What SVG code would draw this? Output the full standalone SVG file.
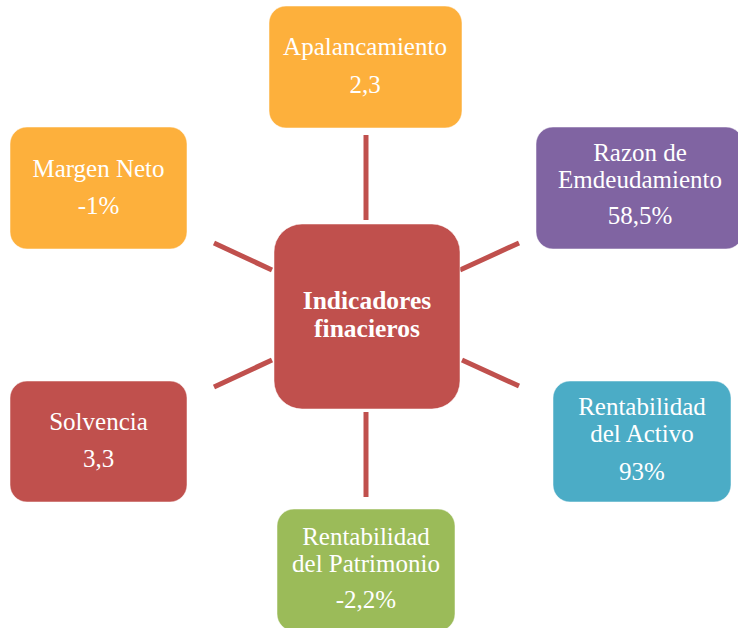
<svg xmlns="http://www.w3.org/2000/svg" width="738" height="628" viewBox="0 0 738 628">
<style>
.box{stroke:#ffffff;stroke-opacity:0.5;stroke-width:1}
.t{font-family:"Liberation Serif","Times New Roman",serif;font-size:25px;fill:#ffffff;text-anchor:middle}
.b{font-weight:bold;font-size:25.5px}
.c{stroke:#c0504d;stroke-width:5;fill:none}
</style>
<rect width="738" height="628" fill="#ffffff"/>
<g id="connectors">
<line class="c" x1="366" y1="135" x2="366" y2="220"/>
<line class="c" x1="366" y1="412" x2="366" y2="497"/>
<line class="c" x1="214" y1="243" x2="272" y2="270"/>
<line class="c" x1="214" y1="387" x2="272" y2="360"/>
<line class="c" x1="460" y1="270" x2="519" y2="243"/>
<line class="c" x1="462" y1="360" x2="519" y2="386"/>
</g>
<g id="center">
<rect class="box" x="274" y="224" width="186" height="185" rx="28" fill="#c0504d"/>
<text class="t b" x="367" y="309">Indicadores</text>
<text class="t b" x="367" y="337">finacieros</text>
</g>
<g id="apalancamiento">
<rect class="box" x="269" y="6" width="193" height="122" rx="17" fill="#fdb03c"/>
<text class="t" x="365" y="55">Apalancamiento</text>
<text class="t" x="365" y="93">2,3</text>
</g>
<g id="razon">
<rect class="box" x="536" y="127" width="207" height="122" rx="17" fill="#8064a2"/>
<text class="t" x="640" y="161">Razon de</text>
<text class="t" x="640" y="188">Emdeudamiento</text>
<text class="t" x="640" y="224">58,5%</text>
</g>
<g id="margen">
<rect class="box" x="10" y="127" width="177" height="122" rx="17" fill="#fdb03c"/>
<text class="t" x="98.5" y="177">Margen Neto</text>
<text class="t" x="98.5" y="214">-1%</text>
</g>
<g id="solvencia">
<rect class="box" x="10" y="381" width="177" height="121" rx="17" fill="#c0504d"/>
<text class="t" x="98.5" y="430">Solvencia</text>
<text class="t" x="98.5" y="467">3,3</text>
</g>
<g id="activo">
<rect class="box" x="553" y="381" width="178" height="121" rx="17" fill="#4bacc6"/>
<text class="t" x="642" y="415">Rentabilidad</text>
<text class="t" x="642" y="442">del Activo</text>
<text class="t" x="642" y="480">93%</text>
</g>
<g id="patrimonio">
<rect class="box" x="277" y="509" width="178" height="122" rx="17" fill="#9bbb59"/>
<text class="t" x="366" y="545">Rentabilidad</text>
<text class="t" x="366" y="572">del Patrimonio</text>
<text class="t" x="366" y="608">-2,2%</text>
</g>
</svg>
